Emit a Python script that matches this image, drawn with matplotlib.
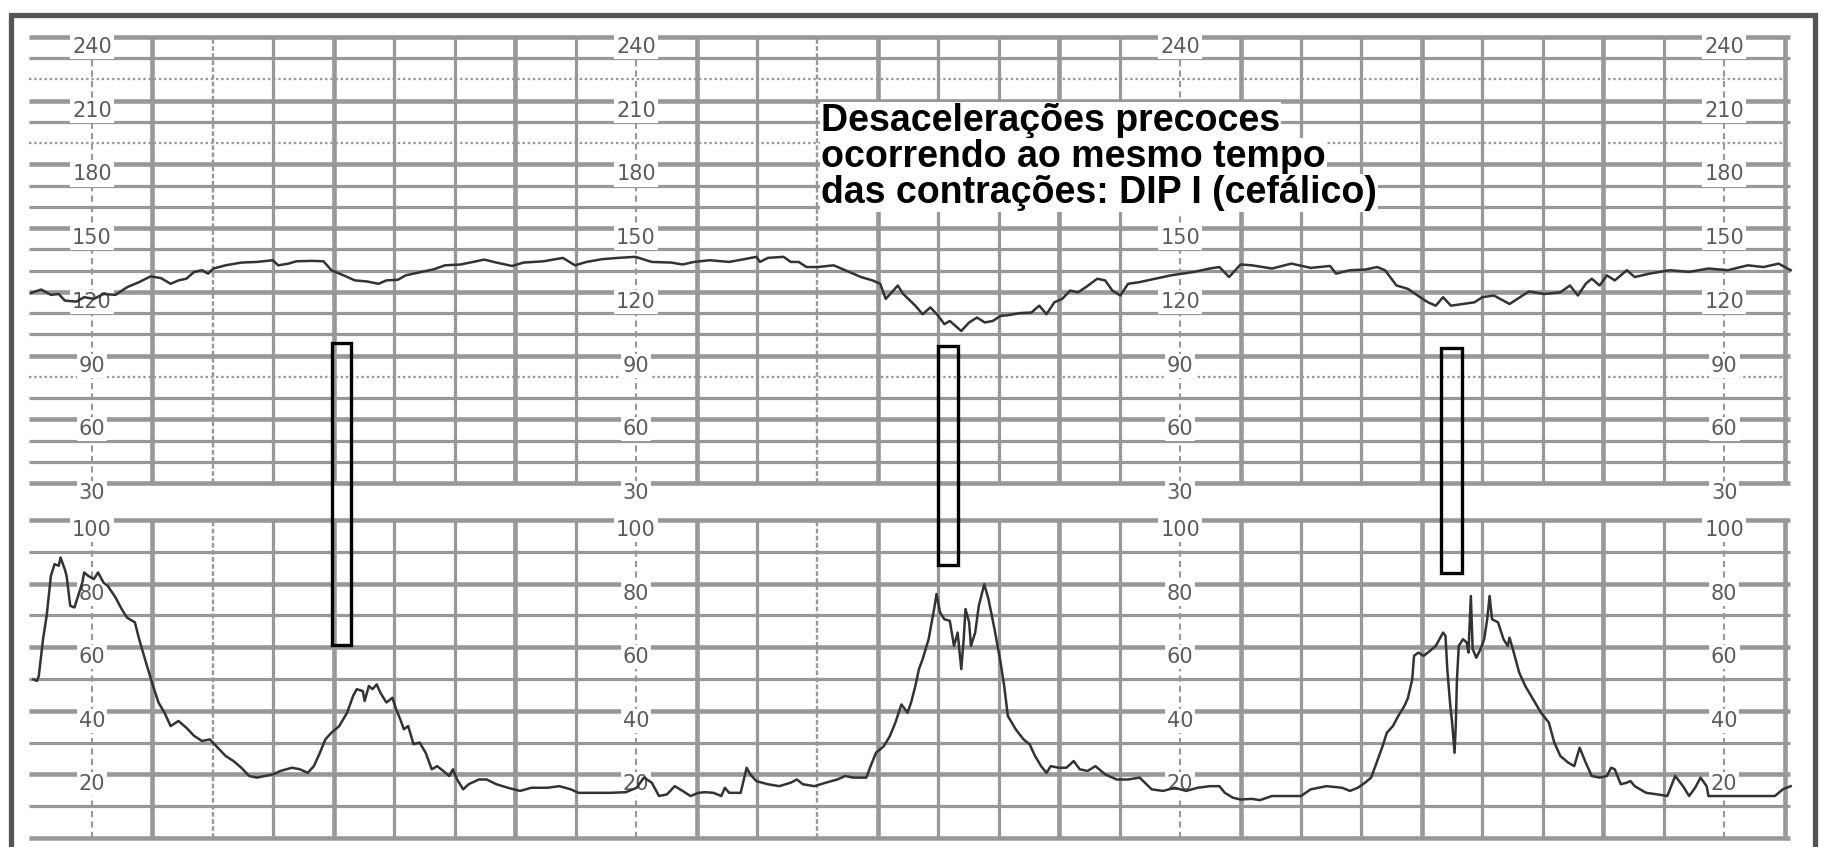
import matplotlib
matplotlib.use("Agg")
import matplotlib.pyplot as plt
from matplotlib import font_manager
from matplotlib.patches import Rectangle

# time in minutes (one grid square = 1 min), scale labels printed every 9 min
fhr_t = [-1.01, -0.84, -0.68, -0.55, -0.45, -0.26, -0.13, 0.03, 0.19, 0.39,
         0.58, 0.78, 0.97, 1.14, 1.30, 1.43, 1.56, 1.69, 1.82, 1.92,
         2.01, 2.21, 2.47, 2.73, 2.99, 3.08, 3.25, 3.38, 3.64, 3.83,
         3.96, 4.16, 4.35, 4.55, 4.74, 4.87, 5.06, 5.19, 5.39, 5.65,
         5.84, 6.10, 6.30, 6.49, 6.69, 6.95, 7.14, 7.47, 7.79, 7.99,
         8.18, 8.44, 8.70, 8.99, 9.26, 9.58, 9.77, 9.96, 10.22, 10.54,
         10.79, 10.99, 11.05, 11.18, 11.44, 11.56, 11.69, 11.82, 12.01, 12.27,
         12.46, 12.72, 12.91, 13.04, 13.13, 13.23, 13.33, 13.42, 13.62, 13.74,
         13.87, 14.00, 14.10, 14.19, 14.38, 14.51, 14.64, 14.77, 14.90, 15.03,
         15.15, 15.35, 15.54, 15.67, 15.79, 15.92, 16.05, 16.18, 16.31, 16.44,
         16.63, 16.76, 16.88, 17.01, 17.14, 17.33, 17.59, 17.85, 18.04, 18.23,
         18.49, 18.65, 18.81, 19.00, 19.19, 19.52, 19.84, 20.16, 20.48, 20.58,
         20.81, 21.06, 21.26, 21.39, 21.58, 21.77, 21.97, 22.10, 22.23, 22.35,
         22.48, 22.68, 22.87, 23.00, 23.19, 23.45, 23.58, 23.77, 24.03, 24.29,
         24.45, 24.58, 24.71, 24.81, 24.94, 25.06, 25.19, 25.39, 25.52, 25.77,
         26.10, 26.42, 26.74, 27.06, 27.39, 27.65, 27.90, 28.10]
fhr_bpm = [119.5, 121.1, 118.6, 119.0, 115.9, 115.4, 117.5, 116.7, 119.0, 118.6,
           122.2, 124.6, 127.3, 126.5, 123.8, 125.4, 126.2, 129.4, 130.2, 128.6,
           131.0, 132.5, 133.8, 134.1, 134.9, 132.5, 133.3, 134.4, 134.6, 134.4,
           130.2, 127.8, 125.4, 124.9, 123.8, 125.4, 125.7, 127.8, 129.0, 130.6,
           132.5, 132.9, 134.1, 135.2, 133.8, 132.2, 133.8, 134.4, 136.0, 132.5,
           134.1, 135.4, 136.0, 136.5, 134.1, 133.8, 132.9, 134.1, 134.9, 134.1,
           135.4, 136.5, 134.1, 136.0, 136.5, 134.1, 134.1, 131.7, 131.7, 132.5,
           130.2, 127.0, 125.4, 123.8, 116.7, 119.8, 123.0, 119.0, 113.5, 109.5,
           112.7, 108.7, 104.8, 106.3, 101.6, 105.6, 107.9, 105.6, 106.3, 108.7,
           109.0, 110.0, 110.3, 113.5, 109.5, 115.1, 116.7, 120.6, 119.8, 122.2,
           126.2, 125.4, 120.6, 118.3, 123.8, 124.6, 126.2, 127.8, 128.6, 129.4,
           131.0, 131.7, 127.0, 132.9, 132.5, 131.0, 133.3, 131.3, 132.2, 128.6,
           130.2, 130.5, 131.7, 130.2, 123.0, 121.4, 117.5, 115.1, 113.5, 117.5,
           113.5, 114.3, 115.1, 117.5, 118.3, 114.3, 116.7, 120.2, 119.0, 119.8,
           123.0, 118.3, 123.8, 126.2, 123.0, 127.8, 125.4, 130.2, 127.0, 128.6,
           130.2, 129.4, 131.0, 130.2, 132.5, 131.7, 133.3, 130.2]

uc_t = [-0.97, -0.91, -0.88, -0.81, -0.75, -0.68, -0.62, -0.55, -0.52, -0.45,
        -0.42, -0.36, -0.29, -0.23, -0.16, -0.13, -0.06, 0.03, 0.10, 0.19,
        0.26, 0.39, 0.49, 0.58, 0.71, 0.78, 0.91, 1.01, 1.10, 1.20,
        1.30, 1.43, 1.56, 1.69, 1.82, 1.95, 2.08, 2.21, 2.34, 2.47,
        2.60, 2.73, 2.86, 2.99, 3.12, 3.31, 3.44, 3.57, 3.67, 3.77,
        3.86, 3.96, 4.09, 4.22, 4.32, 4.38, 4.48, 4.51, 4.58, 4.64,
        4.71, 4.77, 4.87, 4.97, 5.03, 5.10, 5.16, 5.23, 5.32, 5.42,
        5.52, 5.62, 5.71, 5.81, 5.91, 5.97, 6.04, 6.14, 6.23, 6.40,
        6.53, 6.69, 6.88, 7.08, 7.27, 7.53, 7.73, 7.92, 8.05, 8.31,
        8.57, 8.83, 9.01, 9.13, 9.26, 9.38, 9.51, 9.64, 9.77, 9.90,
        10.03, 10.15, 10.28, 10.41, 10.47, 10.54, 10.73, 10.83, 10.89, 10.99,
        11.18, 11.37, 11.56, 11.66, 11.76, 11.95, 12.14, 12.33, 12.46, 12.59,
        12.81, 12.88, 12.97, 13.10, 13.20, 13.29, 13.39, 13.49, 13.55, 13.62,
        13.68, 13.74, 13.84, 13.94, 13.97, 14.03, 14.10, 14.19, 14.26, 14.32,
        14.38, 14.42, 14.45, 14.51, 14.54, 14.61, 14.67, 14.76, 14.83, 14.93,
        15.03, 15.09, 15.15, 15.28, 15.41, 15.51, 15.60, 15.70, 15.79, 15.86,
        15.99, 16.12, 16.24, 16.34, 16.47, 16.60, 16.76, 16.95, 17.14, 17.33,
        17.53, 17.72, 17.91, 18.10, 18.29, 18.49, 18.65, 18.74, 18.87, 19.00,
        19.19, 19.32, 19.52, 19.77, 20.00, 20.16, 20.42, 20.68, 20.81, 20.94,
        21.06, 21.16, 21.23, 21.29, 21.35, 21.42, 21.52, 21.61, 21.71, 21.77,
        21.84, 21.87, 21.94, 22.03, 22.13, 22.23, 22.29, 22.35, 22.39, 22.42,
        22.47, 22.50, 22.54, 22.56, 22.58, 22.61, 22.68, 22.74, 22.77, 22.81,
        22.84, 22.90, 22.97, 23.03, 23.08, 23.12, 23.16, 23.26, 23.35, 23.42,
        23.45, 23.52, 23.61, 23.71, 23.84, 23.97, 24.10, 24.19, 24.29, 24.42,
        24.52, 24.61, 24.71, 24.81, 24.94, 25.06, 25.13, 25.19, 25.29, 25.39,
        25.45, 25.52, 25.71, 25.90, 26.06, 26.19, 26.32, 26.42, 26.52, 26.61,
        26.71, 26.74, 27.00, 27.39, 27.84, 27.97, 28.10]
uc_val = [49.9, 49.4, 51.0, 62.5, 69.9, 82.4, 86.1, 85.6, 88.2, 84.5,
          82.4, 73.0, 72.5, 76.1, 80.3, 83.5, 82.4, 81.4, 83.5, 80.3,
          79.3, 75.6, 72.0, 69.3, 67.8, 62.5, 54.1, 47.8, 42.6, 39.4,
          35.2, 36.8, 34.7, 32.1, 30.5, 31.0, 28.4, 25.8, 24.2, 22.1,
          19.5, 19.0, 19.5, 20.0, 21.1, 22.1, 21.6, 20.5, 22.6, 26.8,
          31.0, 33.1, 35.2, 39.4, 44.7, 46.8, 46.2, 43.1, 47.8, 46.8,
          48.3, 45.7, 42.6, 44.1, 40.5, 37.3, 34.2, 35.2, 29.5, 30.0,
          26.8, 21.6, 22.6, 21.1, 19.5, 21.6, 18.4, 15.3, 16.9, 18.4,
          18.4, 16.9, 15.8, 14.8, 15.8, 15.8, 16.3, 15.3, 14.2, 14.2,
          14.2, 14.4, 15.8, 19.0, 17.4, 13.2, 13.7, 16.3, 14.8, 13.2,
          14.2, 14.4, 14.2, 13.2, 15.8, 14.2, 14.2, 22.1, 20.0, 17.9,
          16.9, 16.3, 17.4, 18.4, 16.9, 16.3, 17.4, 18.4, 19.5, 19.0,
          19.0, 22.6, 26.8, 28.9, 32.1, 36.3, 42.0, 39.4, 42.6, 47.8,
          53.1, 56.2, 62.5, 73.0, 76.7, 70.9, 68.8, 68.3, 60.4, 64.6,
          53.1, 62.5, 72.0, 67.8, 60.4, 64.6, 73.0, 79.8, 75.1, 65.7,
          55.2, 47.8, 38.4, 34.2, 31.0, 29.5, 25.8, 22.6, 20.5, 22.6,
          22.1, 22.1, 24.2, 21.6, 21.1, 22.6, 20.0, 18.4, 18.4, 19.0,
          15.3, 14.8, 15.8, 14.8, 15.8, 16.3, 16.3, 14.2, 12.7, 12.1,
          12.3, 11.9, 13.2, 13.2, 13.2, 15.3, 16.3, 15.8, 14.8, 15.8,
          17.4, 19.0, 22.6, 25.8, 28.9, 33.1, 35.2, 38.4, 41.5, 44.1,
          49.9, 57.3, 58.3, 57.3, 58.8, 60.4, 62.5, 64.6, 63.6, 53.1,
          41.5, 36.3, 26.8, 35.2, 49.9, 60.4, 62.5, 61.5, 58.3, 76.1,
          59.4, 56.7, 59.4, 62.5, 68.8, 76.1, 68.8, 67.8, 62.5, 60.4,
          63.0, 58.3, 52.0, 47.8, 43.6, 39.4, 36.3, 30.0, 25.8, 23.7,
          22.6, 28.4, 23.7, 19.5, 19.0, 19.5, 22.1, 21.6, 16.9, 17.4,
          17.9, 16.3, 14.2, 13.7, 13.2, 19.5, 16.3, 13.2, 15.8, 19.0,
          16.3, 13.2, 13.2, 13.2, 13.2, 15.3, 16.3]

fhr_labels = [240, 210, 180, 150, 120, 90, 60, 30]
uc_labels = [100, 80, 60, 40, 20]
label_cols = [0, 9, 18, 27]
# scale labels that sit under the note in the original
hidden_labels = [(18, 210), (18, 180)]

# highlight boxes: start/end minute, top (bpm), bottom (UC)
box_t0 = [3.97, 14.00, 22.32]
box_t1 = [4.28, 14.32, 22.66]
box_top = [96.0, 94.5, 93.6]
box_bot = [60.7, 85.9, 83.4]

note = ["Desacelerações precoces",
        "ocorrendo ao mesmo tempo",
        "das contrações: DIP I (cefálico)"]

# ---- page geometry (pixels of the scanned strip)
W, H = 1825, 847
X0, PXMIN = 92.0, 60.45          # minute 0 position, px per minute
F240, PXBPM = 37.0, 2.124        # 240 bpm line, px per bpm
U100, PXUC = 520.0, 3.18         # 100 UC line, px per unit
SPLIT = 501.0
T_LEFT, T_RIGHT = -1.04, 28.09

GRID = "#989898"
TRACE = "#333333"

names = {f.name for f in font_manager.fontManager.ttflist}
label_font = "Liberation Sans Narrow" if "Liberation Sans Narrow" in names else "DejaVu Sans"

fig = plt.figure(figsize=(W / 100, H / 100), dpi=100)
fig.patch.set_facecolor("white")

ax1 = fig.add_axes([0, 1 - SPLIT / H, 1, SPLIT / H])
ax2 = fig.add_axes([0, 0, 1, (H - SPLIT) / H])
xl = ((0 - X0) / PXMIN, (W - X0) / PXMIN)
ax1.set_xlim(xl)
ax2.set_xlim(xl)
ax1.set_ylim(240 - (SPLIT - F240) / PXBPM, 240 + F240 / PXBPM)
ax2.set_ylim(100 - (H - U100) / PXUC, 100 + (U100 - SPLIT) / PXUC)
for ax in (ax1, ax2):
    ax.axis("off")


def draw_grid(ax, lo, hi, step, thick_every, dotted=()):
    for v in range(lo, hi + 1, step):
        if v in dotted:
            ax.hlines(v, T_LEFT, T_RIGHT, color=GRID, lw=1.7, ls=(0, (1, 1.2)), zorder=1)
        elif v % thick_every == 0:
            ax.hlines(v, T_LEFT, T_RIGHT, color=GRID, lw=3.3, zorder=1)
        else:
            ax.hlines(v, T_LEFT, T_RIGHT, color=GRID, lw=2.3, zorder=1)
    for m in range(0, 29):
        if m in label_cols:
            ax.vlines(m, lo, hi, color=GRID, lw=1.5, ls=(0, (3, 2)), zorder=1)
        elif m in (2, 12):
            ax.vlines(m, lo, hi, color=GRID, lw=1.7, ls=(0, (2, 1)), zorder=1)
        elif m % 3 == 1:
            ax.vlines(m, lo, hi, color=GRID, lw=3.3, zorder=1)
        else:
            ax.vlines(m, lo, hi, color=GRID, lw=2.3, zorder=1)


draw_grid(ax1, 30, 240, 10, 30, dotted=(220, 190, 80))
draw_grid(ax2, 0, 100, 10, 20)

lab_kw = dict(ha="center", va="center", fontsize=15, color="#5c5c5c",
              family=[label_font, "DejaVu Sans"], zorder=3,
              bbox=dict(fc="white", ec="none", pad=1.5))
for c in label_cols:
    for v in fhr_labels:
        if (c, v) in hidden_labels:
            continue
        ax1.text(c, v - 10 / PXBPM, str(v), **lab_kw)
    for v in uc_labels:
        ax2.text(c, v - 10 / PXUC, str(v), **lab_kw)

ax1.plot(fhr_t, fhr_bpm, color=TRACE, lw=1.8, zorder=4)
ax2.plot(uc_t, uc_val, color=TRACE, lw=1.8, zorder=4)

# boxes span both strips
inv = fig.transFigure.inverted()
for t0, t1, top, bot in zip(box_t0, box_t1, box_top, box_bot):
    x0, y1 = inv.transform(ax1.transData.transform((t0, top)))
    x1, y0 = inv.transform(ax2.transData.transform((t1, bot)))
    fig.add_artist(Rectangle((x0, y0), x1 - x0, y1 - y0, transform=fig.transFigure,
                             fill=False, ec="black", lw=2.4, zorder=6))

for i, line in enumerate(note):
    fig.text(821 / W, 1 - (131 + 36 * i) / H, line, ha="left", va="baseline",
             fontsize=27, fontweight="bold", family=["Liberation Sans", "DejaVu Sans"],
             color="black", zorder=7,
             bbox=dict(fc="white", ec="none", pad=0.5))

# outer frame of the figure
fig.add_artist(Rectangle((10.5 / W, -0.05), (1815 - 10.5) / W, 1 - 15.5 / H + 0.05,
                         transform=fig.transFigure, fill=False, ec="#555555", lw=3.8,
                         zorder=8))

fig.savefig("out.png", dpi=100, facecolor="white")
